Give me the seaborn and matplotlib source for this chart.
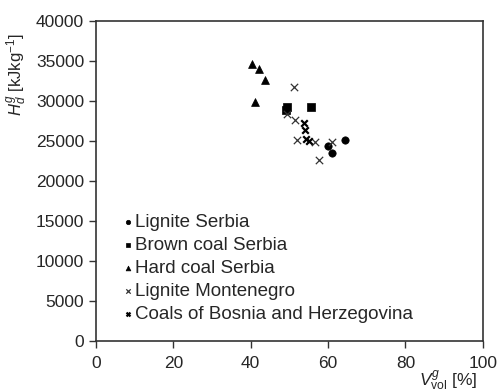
import matplotlib
matplotlib.use("Agg")
import matplotlib.pyplot as plt
import seaborn as sns
import pandas as pd

# Data (V_vol^g [%], H_d^g [kJ/kg])
lignite_serbia_x = [64.3, 59.9, 61.0]
lignite_serbia_y = [25150, 24400, 23550]
brown_serbia_x = [49.2, 49.5, 55.5]
brown_serbia_y = [28950, 29250, 29250]
hard_serbia_x = [40.4, 42.1, 43.6, 41.2]
hard_serbia_y = [34700, 34000, 32700, 29850]
lignite_mont_x = [51.3, 49.3, 51.5, 51.9, 56.7, 57.6, 61.0]
lignite_mont_y = [31800, 28450, 27700, 25150, 24950, 22650, 24850]
bosnia_x = [53.8, 53.9, 55.0, 54.3]
bosnia_y = [27250, 26400, 25050, 25300]

series = ["Lignite Serbia", "Brown coal Serbia", "Hard coal Serbia",
          "Lignite Montenegro", "Coals of Bosnia and Herzegovina"]

frames = []
for name, xs, ys in zip(series,
                        [lignite_serbia_x, brown_serbia_x, hard_serbia_x, lignite_mont_x, bosnia_x],
                        [lignite_serbia_y, brown_serbia_y, hard_serbia_y, lignite_mont_y, bosnia_y]):
    frames.append(pd.DataFrame({"x": xs, "y": ys, "series": name}))
df = pd.concat(frames, ignore_index=True)

sns.set_style("ticks")
plt.rcParams['font.family'] = ['Liberation Sans', 'DejaVu Sans']
plt.rcParams['mathtext.fontset'] = 'custom'
plt.rcParams['mathtext.rm'] = 'Liberation Sans'
plt.rcParams['mathtext.it'] = 'Liberation Sans:italic'

fig = plt.figure(figsize=(5.04, 3.92), dpi=100)
ax = fig.add_axes([0.1905, 0.130, 0.7675, 0.816])

styles = {
    "Lignite Serbia": dict(marker="o", s=28, color="black", edgecolor="black", linewidth=0.5),
    "Brown coal Serbia": dict(marker="s", s=28, color="black", edgecolor="black", linewidth=0.5),
    "Hard coal Serbia": dict(marker="^", s=32, color="black", edgecolor="black", linewidth=0.5),
    "Lignite Montenegro": dict(marker="x", s=28, color="#333333", linewidth=0.9),
    "Coals of Bosnia and Herzegovina": dict(marker="x", s=22, color="black", linewidth=1.6),
}
for name in series:
    sub = df[df["series"] == name]
    sns.scatterplot(data=sub, x="x", y="y", ax=ax, label=name, **styles[name])

ax.set_xlim(0, 100)
ax.set_ylim(0, 40000)
ax.set_xticks([0, 20, 40, 60, 80, 100])
ax.set_yticks(range(0, 40001, 5000))
ax.tick_params(direction="out", length=5, width=1, labelsize=12.5, color="#333333")
ax.tick_params(axis="x", pad=6)
for sp in ax.spines.values():
    sp.set_visible(True)
    sp.set_color("#333333")
    sp.set_linewidth(1.2)

ax.set_xlabel("")
ax.set_ylabel(r"$H_d^g$ [kJkg$^{-1}$]", fontsize=12)
ax.yaxis.set_label_coords(-0.172, 0.832)
fig.text(0.889, -0.002, r"$V_{\mathrm{vol}}^g$ [%]", fontsize=12.5, ha="center", va="bottom")

leg = ax.legend(loc="lower left", bbox_to_anchor=(0.051, 0.034), frameon=False, fontsize=13.5,
                handletextpad=0.12, handlelength=0.5, labelspacing=0.31, borderaxespad=0.0,
                markerscale=0.6)

fig.savefig("out.png", dpi=100)
